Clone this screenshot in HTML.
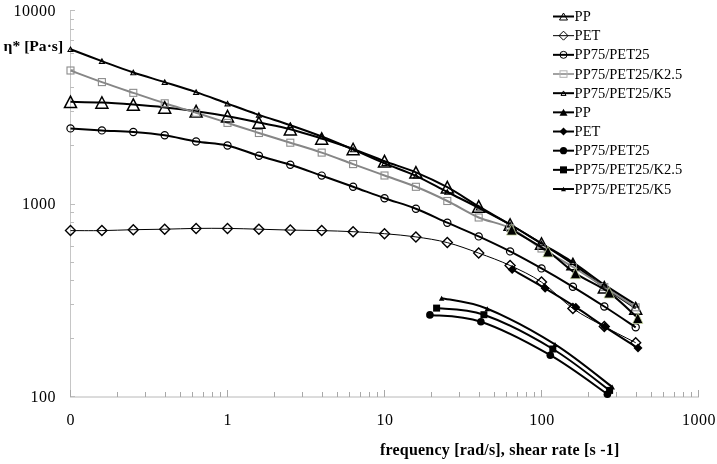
<!DOCTYPE html><html><head><meta charset="utf-8"><style>html,body{margin:0;padding:0;background:#fff;}svg{display:block;will-change:transform;}text{font-family:"Liberation Serif",serif;fill:#000;}</style></head><body>
<svg width="717" height="464" viewBox="0 0 717 464">
<rect width="717" height="464" fill="#fff"/>
<g stroke="#c6c6c6" stroke-width="1" fill="none" shape-rendering="crispEdges">
<line x1="70.5" y1="10" x2="70.5" y2="397"/>
</g>
<g stroke="#b8b8b8" stroke-width="1" fill="none">
<line x1="70" y1="397" x2="699" y2="397"/>
</g>
<g stroke="#bdbdbd" stroke-width="1" fill="none" shape-rendering="crispEdges">
<line x1="70" y1="396.5" x2="75.0" y2="396.5"/>
<line x1="70" y1="338.5" x2="74.0" y2="338.5"/>
<line x1="70" y1="304.5" x2="74.0" y2="304.5"/>
<line x1="70" y1="280.5" x2="74.0" y2="280.5"/>
<line x1="70" y1="262.5" x2="74.0" y2="262.5"/>
<line x1="70" y1="246.5" x2="74.0" y2="246.5"/>
<line x1="70" y1="233.5" x2="74.0" y2="233.5"/>
<line x1="70" y1="222.5" x2="74.0" y2="222.5"/>
<line x1="70" y1="212.5" x2="74.0" y2="212.5"/>
<line x1="70" y1="204.5" x2="75.0" y2="204.5"/>
<line x1="70" y1="145.5" x2="74.0" y2="145.5"/>
<line x1="70" y1="111.5" x2="74.0" y2="111.5"/>
<line x1="70" y1="87.5" x2="74.0" y2="87.5"/>
<line x1="70" y1="69.5" x2="74.0" y2="69.5"/>
<line x1="70" y1="53.5" x2="74.0" y2="53.5"/>
<line x1="70" y1="40.5" x2="74.0" y2="40.5"/>
<line x1="70" y1="29.5" x2="74.0" y2="29.5"/>
<line x1="70" y1="19.5" x2="74.0" y2="19.5"/>
<line x1="70" y1="10.5" x2="75" y2="10.5"/>
</g>
<g stroke="#a8a8a8" stroke-width="1" fill="none" shape-rendering="crispEdges">
<line x1="70.5" y1="397" x2="70.5" y2="390.0"/>
<line x1="117.5" y1="397" x2="117.5" y2="392.0"/>
<line x1="145.5" y1="397" x2="145.5" y2="392.0"/>
<line x1="165.5" y1="397" x2="165.5" y2="392.0"/>
<line x1="180.5" y1="397" x2="180.5" y2="392.0"/>
<line x1="192.5" y1="397" x2="192.5" y2="392.0"/>
<line x1="203.5" y1="397" x2="203.5" y2="392.0"/>
<line x1="212.5" y1="397" x2="212.5" y2="392.0"/>
<line x1="220.5" y1="397" x2="220.5" y2="392.0"/>
<line x1="227.5" y1="397" x2="227.5" y2="390.0"/>
<line x1="274.5" y1="397" x2="274.5" y2="392.0"/>
<line x1="302.5" y1="397" x2="302.5" y2="392.0"/>
<line x1="322.5" y1="397" x2="322.5" y2="392.0"/>
<line x1="337.5" y1="397" x2="337.5" y2="392.0"/>
<line x1="349.5" y1="397" x2="349.5" y2="392.0"/>
<line x1="360.5" y1="397" x2="360.5" y2="392.0"/>
<line x1="369.5" y1="397" x2="369.5" y2="392.0"/>
<line x1="377.5" y1="397" x2="377.5" y2="392.0"/>
<line x1="384.5" y1="397" x2="384.5" y2="390.0"/>
<line x1="431.5" y1="397" x2="431.5" y2="392.0"/>
<line x1="459.5" y1="397" x2="459.5" y2="392.0"/>
<line x1="479.5" y1="397" x2="479.5" y2="392.0"/>
<line x1="494.5" y1="397" x2="494.5" y2="392.0"/>
<line x1="506.5" y1="397" x2="506.5" y2="392.0"/>
<line x1="517.5" y1="397" x2="517.5" y2="392.0"/>
<line x1="526.5" y1="397" x2="526.5" y2="392.0"/>
<line x1="534.5" y1="397" x2="534.5" y2="392.0"/>
<line x1="541.5" y1="397" x2="541.5" y2="390.0"/>
<line x1="588.5" y1="397" x2="588.5" y2="392.0"/>
<line x1="616.5" y1="397" x2="616.5" y2="392.0"/>
<line x1="636.5" y1="397" x2="636.5" y2="392.0"/>
<line x1="651.5" y1="397" x2="651.5" y2="392.0"/>
<line x1="663.5" y1="397" x2="663.5" y2="392.0"/>
<line x1="674.5" y1="397" x2="674.5" y2="392.0"/>
<line x1="683.5" y1="397" x2="683.5" y2="392.0"/>
<line x1="691.5" y1="397" x2="691.5" y2="392.0"/>
<line x1="698.5" y1="397" x2="698.5" y2="390"/>
</g>
<g font-size="16" letter-spacing="0.5">
<text x="56" y="15.6" text-anchor="end">10000</text>
<text x="56" y="208.8" text-anchor="end">1000</text>
<text x="56" y="402.1" text-anchor="end">100</text>
<text x="70.8" y="424.7" text-anchor="middle">0</text>
<text x="227.8" y="424.7" text-anchor="middle">1</text>
<text x="384.9" y="424.7" text-anchor="middle">10</text>
<text x="541.9" y="424.7" text-anchor="middle">100</text>
<text x="698.9" y="424.7" text-anchor="middle">1000</text>
</g>
<text x="3.6" y="51" font-size="15.6" font-weight="bold">η* [Pa·s]</text>
<text x="380" y="455.2" font-size="16" font-weight="bold" letter-spacing="0.2">frequency [rad/s], shear rate [s -1]</text>
<path d="M70.50,230.60 C75.73,230.60 91.43,230.75 101.90,230.60 C112.37,230.45 122.83,229.93 133.30,229.70 C143.77,229.47 154.23,229.42 164.70,229.20 C175.17,228.98 185.63,228.53 196.10,228.40 C206.57,228.27 217.03,228.27 227.50,228.40 C237.97,228.53 248.43,228.92 258.90,229.20 C269.37,229.48 279.83,229.87 290.30,230.10 C300.77,230.33 311.23,230.33 321.70,230.60 C332.17,230.87 342.63,231.18 353.10,231.70 C363.57,232.22 374.03,232.83 384.50,233.70 C394.97,234.57 405.43,235.42 415.90,236.90 C426.37,238.38 436.83,239.90 447.30,242.60 C457.77,245.30 468.23,249.28 478.70,253.10 C489.17,256.92 499.63,260.67 510.10,265.50 C520.57,270.33 531.03,274.93 541.50,282.10 C551.97,289.27 562.43,301.10 572.90,308.50 C583.37,315.90 593.83,320.80 604.30,326.50 C614.77,332.20 630.47,340.00 635.70,342.70" fill="none" stroke="#000" stroke-width="1" stroke-linejoin="round"/>
<path d="M70.50,128.40 C75.73,128.73 91.43,129.80 101.90,130.40 C112.37,131.00 122.83,131.18 133.30,132.00 C143.77,132.82 154.23,133.72 164.70,135.30 C175.17,136.88 185.63,139.80 196.10,141.50 C206.57,143.20 217.03,143.12 227.50,145.50 C237.97,147.88 248.43,152.60 258.90,155.80 C269.37,159.00 279.83,161.40 290.30,164.70 C300.77,168.00 311.23,171.93 321.70,175.60 C332.17,179.27 342.63,182.93 353.10,186.70 C363.57,190.47 374.03,194.53 384.50,198.20 C394.97,201.87 405.43,204.62 415.90,208.70 C426.37,212.78 436.83,218.08 447.30,222.70 C457.77,227.32 468.23,231.62 478.70,236.40 C489.17,241.18 499.63,246.07 510.10,251.40 C520.57,256.73 531.03,262.50 541.50,268.40 C551.97,274.30 562.43,280.45 572.90,286.80 C583.37,293.15 593.83,299.75 604.30,306.50 C614.77,313.25 630.47,323.83 635.70,327.30" fill="none" stroke="#000" stroke-width="2" stroke-linejoin="round"/>
<path d="M70.50,101.80 C75.73,101.92 91.43,102.03 101.90,102.50 C112.37,102.97 122.83,103.78 133.30,104.60 C143.77,105.42 154.23,106.30 164.70,107.40 C175.17,108.50 185.63,109.73 196.10,111.20 C206.57,112.67 217.03,114.30 227.50,116.20 C237.97,118.10 248.43,120.43 258.90,122.60 C269.37,124.77 279.83,126.55 290.30,129.20 C300.77,131.85 311.23,135.20 321.70,138.50 C332.17,141.80 342.63,145.22 353.10,149.00 C363.57,152.78 374.03,157.32 384.50,161.20 C394.97,165.08 405.43,167.97 415.90,172.30 C426.37,176.63 436.83,181.52 447.30,187.20 C457.77,192.88 468.23,200.18 478.70,206.40 C489.17,212.62 499.63,218.32 510.10,224.50 C520.57,230.68 531.03,236.92 541.50,243.50 C551.97,250.08 562.43,256.70 572.90,264.00 C583.37,271.30 593.83,279.90 604.30,287.30 C614.77,294.70 630.47,304.88 635.70,308.40" fill="none" stroke="#000" stroke-width="2" stroke-linejoin="round"/>
<path d="M70.50,70.50 C75.73,72.43 91.43,78.38 101.90,82.10 C112.37,85.82 122.83,89.32 133.30,92.85 C143.77,96.38 154.23,99.97 164.70,103.30 C175.17,106.62 185.63,109.53 196.10,112.80 C206.57,116.07 217.03,119.53 227.50,122.90 C237.97,126.27 248.43,129.70 258.90,133.00 C269.37,136.30 279.83,139.43 290.30,142.70 C300.77,145.97 311.23,149.03 321.70,152.60 C332.17,156.17 342.63,160.28 353.10,164.10 C363.57,167.92 374.03,171.72 384.50,175.50 C394.97,179.28 405.43,182.55 415.90,186.80 C426.37,191.05 436.83,195.88 447.30,201.00 C457.77,206.12 468.23,213.00 478.70,217.50 C489.17,222.00 499.63,222.83 510.10,228.00 C520.57,233.17 531.03,242.00 541.50,248.50 C551.97,255.00 562.43,260.58 572.90,267.00 C583.37,273.42 593.83,280.28 604.30,287.00 C614.77,293.72 630.47,303.92 635.70,307.30" fill="none" stroke="#868686" stroke-width="2" stroke-linejoin="round"/>
<path d="M70.50,49.30 C75.73,51.27 91.43,57.23 101.90,61.10 C112.37,64.97 122.83,69.00 133.30,72.50 C143.77,76.00 154.23,78.83 164.70,82.10 C175.17,85.37 185.63,88.52 196.10,92.10 C206.57,95.68 217.03,99.80 227.50,103.60 C237.97,107.40 248.43,111.30 258.90,114.90 C269.37,118.50 279.83,121.60 290.30,125.20 C300.77,128.80 311.23,132.45 321.70,136.50 C332.17,140.55 342.63,145.03 353.10,149.50 C363.57,153.97 374.03,158.92 384.50,163.30 C394.97,167.68 405.43,171.02 415.90,175.80 C426.37,180.58 436.83,186.67 447.30,192.00 C457.77,197.33 468.23,202.38 478.70,207.80 C489.17,213.22 499.63,218.55 510.10,224.50 C520.57,230.45 531.03,237.20 541.50,243.50 C551.97,249.80 562.43,255.43 572.90,262.30 C583.37,269.17 593.83,277.63 604.30,284.70 C614.77,291.77 630.47,301.37 635.70,304.70" fill="none" stroke="#000" stroke-width="2" stroke-linejoin="round"/>
<path d="M70.50,225.60 L75.50,230.60 L70.50,235.60 L65.50,230.60 Z" fill="none" stroke="#000" stroke-width="1.4"/>
<path d="M101.90,225.60 L106.90,230.60 L101.90,235.60 L96.90,230.60 Z" fill="none" stroke="#000" stroke-width="1.4"/>
<path d="M133.30,224.70 L138.30,229.70 L133.30,234.70 L128.30,229.70 Z" fill="none" stroke="#000" stroke-width="1.4"/>
<path d="M164.70,224.20 L169.70,229.20 L164.70,234.20 L159.70,229.20 Z" fill="none" stroke="#000" stroke-width="1.4"/>
<path d="M196.10,223.40 L201.10,228.40 L196.10,233.40 L191.10,228.40 Z" fill="none" stroke="#000" stroke-width="1.4"/>
<path d="M227.50,223.40 L232.50,228.40 L227.50,233.40 L222.50,228.40 Z" fill="none" stroke="#000" stroke-width="1.4"/>
<path d="M258.90,224.20 L263.90,229.20 L258.90,234.20 L253.90,229.20 Z" fill="none" stroke="#000" stroke-width="1.4"/>
<path d="M290.30,225.10 L295.30,230.10 L290.30,235.10 L285.30,230.10 Z" fill="none" stroke="#000" stroke-width="1.4"/>
<path d="M321.70,225.60 L326.70,230.60 L321.70,235.60 L316.70,230.60 Z" fill="none" stroke="#000" stroke-width="1.4"/>
<path d="M353.10,226.70 L358.10,231.70 L353.10,236.70 L348.10,231.70 Z" fill="none" stroke="#000" stroke-width="1.4"/>
<path d="M384.50,228.70 L389.50,233.70 L384.50,238.70 L379.50,233.70 Z" fill="none" stroke="#000" stroke-width="1.4"/>
<path d="M415.90,231.90 L420.90,236.90 L415.90,241.90 L410.90,236.90 Z" fill="none" stroke="#000" stroke-width="1.4"/>
<path d="M447.30,237.60 L452.30,242.60 L447.30,247.60 L442.30,242.60 Z" fill="none" stroke="#000" stroke-width="1.4"/>
<path d="M478.70,248.10 L483.70,253.10 L478.70,258.10 L473.70,253.10 Z" fill="none" stroke="#000" stroke-width="1.4"/>
<path d="M510.10,260.50 L515.10,265.50 L510.10,270.50 L505.10,265.50 Z" fill="none" stroke="#000" stroke-width="1.4"/>
<path d="M541.50,277.10 L546.50,282.10 L541.50,287.10 L536.50,282.10 Z" fill="none" stroke="#000" stroke-width="1.4"/>
<path d="M572.90,303.50 L577.90,308.50 L572.90,313.50 L567.90,308.50 Z" fill="none" stroke="#000" stroke-width="1.4"/>
<path d="M604.30,321.50 L609.30,326.50 L604.30,331.50 L599.30,326.50 Z" fill="none" stroke="#000" stroke-width="1.4"/>
<path d="M635.70,337.70 L640.70,342.70 L635.70,347.70 L630.70,342.70 Z" fill="none" stroke="#000" stroke-width="1.4"/>
<circle cx="70.50" cy="128.40" r="3.6" fill="none" stroke="#000" stroke-width="1.2"/>
<circle cx="101.90" cy="130.40" r="3.6" fill="none" stroke="#000" stroke-width="1.2"/>
<circle cx="133.30" cy="132.00" r="3.6" fill="none" stroke="#000" stroke-width="1.2"/>
<circle cx="164.70" cy="135.30" r="3.6" fill="none" stroke="#000" stroke-width="1.2"/>
<circle cx="196.10" cy="141.50" r="3.6" fill="none" stroke="#000" stroke-width="1.2"/>
<circle cx="227.50" cy="145.50" r="3.6" fill="none" stroke="#000" stroke-width="1.2"/>
<circle cx="258.90" cy="155.80" r="3.6" fill="none" stroke="#000" stroke-width="1.2"/>
<circle cx="290.30" cy="164.70" r="3.6" fill="none" stroke="#000" stroke-width="1.2"/>
<circle cx="321.70" cy="175.60" r="3.6" fill="none" stroke="#000" stroke-width="1.2"/>
<circle cx="353.10" cy="186.70" r="3.6" fill="none" stroke="#000" stroke-width="1.2"/>
<circle cx="384.50" cy="198.20" r="3.6" fill="none" stroke="#000" stroke-width="1.2"/>
<circle cx="415.90" cy="208.70" r="3.6" fill="none" stroke="#000" stroke-width="1.2"/>
<circle cx="447.30" cy="222.70" r="3.6" fill="none" stroke="#000" stroke-width="1.2"/>
<circle cx="478.70" cy="236.40" r="3.6" fill="none" stroke="#000" stroke-width="1.2"/>
<circle cx="510.10" cy="251.40" r="3.6" fill="none" stroke="#000" stroke-width="1.2"/>
<circle cx="541.50" cy="268.40" r="3.6" fill="none" stroke="#000" stroke-width="1.2"/>
<circle cx="572.90" cy="286.80" r="3.6" fill="none" stroke="#000" stroke-width="1.2"/>
<circle cx="604.30" cy="306.50" r="3.6" fill="none" stroke="#000" stroke-width="1.2"/>
<circle cx="635.70" cy="327.30" r="3.6" fill="none" stroke="#000" stroke-width="1.2"/>
<path d="M70.50,96.05 L76.50,107.55 L64.50,107.55 Z" fill="none" stroke="#000" stroke-width="1.5"/>
<path d="M101.90,96.75 L107.90,108.25 L95.90,108.25 Z" fill="none" stroke="#000" stroke-width="1.5"/>
<path d="M133.30,98.85 L139.30,110.35 L127.30,110.35 Z" fill="none" stroke="#000" stroke-width="1.5"/>
<path d="M164.70,101.65 L170.70,113.15 L158.70,113.15 Z" fill="none" stroke="#000" stroke-width="1.5"/>
<path d="M196.10,105.45 L202.10,116.95 L190.10,116.95 Z" fill="none" stroke="#000" stroke-width="1.5"/>
<path d="M227.50,110.45 L233.50,121.95 L221.50,121.95 Z" fill="none" stroke="#000" stroke-width="1.5"/>
<path d="M258.90,116.85 L264.90,128.35 L252.90,128.35 Z" fill="none" stroke="#000" stroke-width="1.5"/>
<path d="M290.30,123.45 L296.30,134.95 L284.30,134.95 Z" fill="none" stroke="#000" stroke-width="1.5"/>
<path d="M321.70,132.75 L327.70,144.25 L315.70,144.25 Z" fill="none" stroke="#000" stroke-width="1.5"/>
<path d="M353.10,143.25 L359.10,154.75 L347.10,154.75 Z" fill="none" stroke="#000" stroke-width="1.5"/>
<path d="M384.50,155.45 L390.50,166.95 L378.50,166.95 Z" fill="none" stroke="#000" stroke-width="1.5"/>
<path d="M415.90,166.55 L421.90,178.05 L409.90,178.05 Z" fill="none" stroke="#000" stroke-width="1.5"/>
<path d="M447.30,181.45 L453.30,192.95 L441.30,192.95 Z" fill="none" stroke="#000" stroke-width="1.5"/>
<path d="M478.70,200.65 L484.70,212.15 L472.70,212.15 Z" fill="none" stroke="#000" stroke-width="1.5"/>
<path d="M510.10,218.75 L516.10,230.25 L504.10,230.25 Z" fill="none" stroke="#000" stroke-width="1.5"/>
<path d="M541.50,237.75 L547.50,249.25 L535.50,249.25 Z" fill="none" stroke="#000" stroke-width="1.5"/>
<path d="M572.90,258.25 L578.90,269.75 L566.90,269.75 Z" fill="none" stroke="#000" stroke-width="1.5"/>
<path d="M604.30,281.55 L610.30,293.05 L598.30,293.05 Z" fill="none" stroke="#000" stroke-width="1.5"/>
<path d="M635.70,302.65 L641.70,314.15 L629.70,314.15 Z" fill="none" stroke="#000" stroke-width="1.5"/>
<rect x="67.00" y="67.00" width="7" height="7" fill="none" stroke="#8c8c8c" stroke-width="1.1"/>
<rect x="98.40" y="78.60" width="7" height="7" fill="none" stroke="#8c8c8c" stroke-width="1.1"/>
<rect x="129.80" y="89.35" width="7" height="7" fill="none" stroke="#8c8c8c" stroke-width="1.1"/>
<rect x="161.20" y="99.80" width="7" height="7" fill="none" stroke="#8c8c8c" stroke-width="1.1"/>
<rect x="192.60" y="109.30" width="7" height="7" fill="none" stroke="#8c8c8c" stroke-width="1.1"/>
<rect x="224.00" y="119.40" width="7" height="7" fill="none" stroke="#8c8c8c" stroke-width="1.1"/>
<rect x="255.40" y="129.50" width="7" height="7" fill="none" stroke="#8c8c8c" stroke-width="1.1"/>
<rect x="286.80" y="139.20" width="7" height="7" fill="none" stroke="#8c8c8c" stroke-width="1.1"/>
<rect x="318.20" y="149.10" width="7" height="7" fill="none" stroke="#8c8c8c" stroke-width="1.1"/>
<rect x="349.60" y="160.60" width="7" height="7" fill="none" stroke="#8c8c8c" stroke-width="1.1"/>
<rect x="381.00" y="172.00" width="7" height="7" fill="none" stroke="#8c8c8c" stroke-width="1.1"/>
<rect x="412.40" y="183.30" width="7" height="7" fill="none" stroke="#8c8c8c" stroke-width="1.1"/>
<rect x="443.80" y="197.50" width="7" height="7" fill="none" stroke="#8c8c8c" stroke-width="1.1"/>
<rect x="475.20" y="214.00" width="7" height="7" fill="none" stroke="#8c8c8c" stroke-width="1.1"/>
<rect x="506.60" y="224.50" width="7" height="7" fill="none" stroke="#8c8c8c" stroke-width="1.1"/>
<rect x="538.00" y="245.00" width="7" height="7" fill="none" stroke="#8c8c8c" stroke-width="1.1"/>
<rect x="569.40" y="263.50" width="7" height="7" fill="none" stroke="#8c8c8c" stroke-width="1.1"/>
<rect x="600.80" y="283.50" width="7" height="7" fill="none" stroke="#8c8c8c" stroke-width="1.1"/>
<rect x="632.20" y="303.80" width="7" height="7" fill="none" stroke="#8c8c8c" stroke-width="1.1"/>
<path d="M70.50,47.05 L73.00,51.55 L68.00,51.55 Z" fill="none" stroke="#000" stroke-width="1.1"/>
<path d="M101.90,58.85 L104.40,63.35 L99.40,63.35 Z" fill="none" stroke="#000" stroke-width="1.1"/>
<path d="M133.30,70.25 L135.80,74.75 L130.80,74.75 Z" fill="none" stroke="#000" stroke-width="1.1"/>
<path d="M164.70,79.85 L167.20,84.35 L162.20,84.35 Z" fill="none" stroke="#000" stroke-width="1.1"/>
<path d="M196.10,89.85 L198.60,94.35 L193.60,94.35 Z" fill="none" stroke="#000" stroke-width="1.1"/>
<path d="M227.50,101.35 L230.00,105.85 L225.00,105.85 Z" fill="none" stroke="#000" stroke-width="1.1"/>
<path d="M258.90,112.65 L261.40,117.15 L256.40,117.15 Z" fill="none" stroke="#000" stroke-width="1.1"/>
<path d="M290.30,122.95 L292.80,127.45 L287.80,127.45 Z" fill="none" stroke="#000" stroke-width="1.1"/>
<path d="M321.70,134.25 L324.20,138.75 L319.20,138.75 Z" fill="none" stroke="#000" stroke-width="1.1"/>
<path d="M353.10,147.25 L355.60,151.75 L350.60,151.75 Z" fill="none" stroke="#000" stroke-width="1.1"/>
<path d="M384.50,161.05 L387.00,165.55 L382.00,165.55 Z" fill="none" stroke="#000" stroke-width="1.1"/>
<path d="M415.90,173.55 L418.40,178.05 L413.40,178.05 Z" fill="none" stroke="#000" stroke-width="1.1"/>
<path d="M447.30,189.75 L449.80,194.25 L444.80,194.25 Z" fill="none" stroke="#000" stroke-width="1.1"/>
<path d="M478.70,205.55 L481.20,210.05 L476.20,210.05 Z" fill="none" stroke="#000" stroke-width="1.1"/>
<path d="M510.10,222.25 L512.60,226.75 L507.60,226.75 Z" fill="none" stroke="#000" stroke-width="1.1"/>
<path d="M541.50,241.25 L544.00,245.75 L539.00,245.75 Z" fill="none" stroke="#000" stroke-width="1.1"/>
<path d="M572.90,260.05 L575.40,264.55 L570.40,264.55 Z" fill="none" stroke="#000" stroke-width="1.1"/>
<path d="M604.30,282.45 L606.80,286.95 L601.80,286.95 Z" fill="none" stroke="#000" stroke-width="1.1"/>
<path d="M635.70,302.45 L638.20,306.95 L633.20,306.95 Z" fill="none" stroke="#000" stroke-width="1.1"/>
<path d="M512.20,269.50 C517.68,272.63 534.50,282.02 545.10,288.30 C555.70,294.58 565.85,300.78 575.80,307.20 C585.75,313.62 594.43,319.98 604.80,326.80 C615.17,333.62 632.47,344.55 638.00,348.10" fill="none" stroke="#000" stroke-width="2" stroke-linejoin="round"/>
<path d="M511.70,229.70 C517.75,233.33 537.37,244.23 548.00,251.50 C558.63,258.77 565.30,266.45 575.50,273.30 C585.70,280.15 598.82,285.13 609.20,292.60 C619.58,300.07 633.03,313.85 637.80,318.10" fill="none" stroke="#000" stroke-width="2" stroke-linejoin="round"/>
<path d="M429.90,314.90 C438.40,316.03 460.83,314.98 480.90,321.70 C500.97,328.42 529.22,343.12 550.30,355.20 C571.38,367.28 597.88,387.70 607.40,394.20" fill="none" stroke="#000" stroke-width="2" stroke-linejoin="round"/>
<path d="M436.60,308.10 C444.48,309.20 464.53,307.88 483.90,314.70 C503.27,321.52 531.85,336.38 552.80,349.00 C573.75,361.62 600.13,383.50 609.60,390.40" fill="none" stroke="#000" stroke-width="2" stroke-linejoin="round"/>
<path d="M441.60,298.20 C449.22,299.97 468.40,301.10 487.30,308.80 C506.20,316.50 534.18,331.37 555.00,344.40 C575.82,357.43 602.67,379.90 612.20,387.00" fill="none" stroke="#000" stroke-width="2" stroke-linejoin="round"/>
<path d="M512.20,265.00 L516.70,269.50 L512.20,274.00 L507.70,269.50 Z" fill="#000"/>
<path d="M545.10,283.80 L549.60,288.30 L545.10,292.80 L540.60,288.30 Z" fill="#000"/>
<path d="M575.80,302.70 L580.30,307.20 L575.80,311.70 L571.30,307.20 Z" fill="#000"/>
<path d="M604.80,322.30 L609.30,326.80 L604.80,331.30 L600.30,326.80 Z" fill="#000"/>
<path d="M638.00,343.60 L642.50,348.10 L638.00,352.60 L633.50,348.10 Z" fill="#000"/>
<path d="M511.70,224.30 L516.90,235.10 L506.50,235.10 Z" fill="#000" stroke="#c9d8a6" stroke-width="0.8"/>
<path d="M548.00,246.10 L553.20,256.90 L542.80,256.90 Z" fill="#000" stroke="#c9d8a6" stroke-width="0.8"/>
<path d="M575.50,267.90 L580.70,278.70 L570.30,278.70 Z" fill="#000" stroke="#c9d8a6" stroke-width="0.8"/>
<path d="M609.20,287.20 L614.40,298.00 L604.00,298.00 Z" fill="#000" stroke="#c9d8a6" stroke-width="0.8"/>
<path d="M637.80,312.70 L643.00,323.50 L632.60,323.50 Z" fill="#000" stroke="#c9d8a6" stroke-width="0.8"/>
<circle cx="429.90" cy="314.90" r="3.8" fill="#000"/>
<circle cx="480.90" cy="321.70" r="3.8" fill="#000"/>
<circle cx="550.30" cy="355.20" r="3.8" fill="#000"/>
<circle cx="607.40" cy="394.20" r="3.8" fill="#000"/>
<rect x="433.10" y="304.60" width="7" height="7" fill="#000"/>
<rect x="480.40" y="311.20" width="7" height="7" fill="#000"/>
<rect x="549.30" y="345.50" width="7" height="7" fill="#000"/>
<rect x="606.10" y="386.90" width="7" height="7" fill="#000"/>
<path d="M441.60,295.70 L444.35,300.70 L438.85,300.70 Z" fill="#000"/>
<path d="M487.30,306.30 L490.05,311.30 L484.55,311.30 Z" fill="#000"/>
<path d="M555.00,341.90 L557.75,346.90 L552.25,346.90 Z" fill="#000"/>
<path d="M612.20,384.50 L614.95,389.50 L609.45,389.50 Z" fill="#000"/>
<line x1="553" y1="16.50" x2="574" y2="16.50" stroke="#000" stroke-width="2"/>
<path d="M563.50,13.00 L567.50,20.00 L559.50,20.00 Z" fill="none" stroke="#000" stroke-width="1"/>
<text x="574.6" y="21.10" font-size="14.5">PP</text>
<line x1="553" y1="35.67" x2="574" y2="35.67" stroke="#000" stroke-width="1"/>
<path d="M563.50,31.17 L568.00,35.67 L563.50,40.17 L559.00,35.67 Z" fill="none" stroke="#000" stroke-width="1"/>
<text x="574.6" y="40.27" font-size="14.5">PET</text>
<line x1="553" y1="54.84" x2="574" y2="54.84" stroke="#000" stroke-width="2"/>
<circle cx="563.50" cy="54.84" r="3.5" fill="none" stroke="#000" stroke-width="1"/>
<text x="574.6" y="59.44" font-size="14.5">PP75/PET25</text>
<line x1="553" y1="74.01" x2="574" y2="74.01" stroke="#a2a2a2" stroke-width="2"/>
<rect x="560.00" y="70.81" width="7" height="6.5" fill="none" stroke="#b0b0b0" stroke-width="1"/>
<text x="574.6" y="78.61" font-size="14.5">PP75/PET25/K2.5</text>
<line x1="553" y1="93.18" x2="574" y2="93.18" stroke="#000" stroke-width="2"/>
<path d="M563.50,90.93 L566.00,95.43 L561.00,95.43 Z" fill="none" stroke="#000" stroke-width="1"/>
<text x="574.6" y="97.78" font-size="14.5">PP75/PET25/K5</text>
<line x1="553" y1="112.35" x2="574" y2="112.35" stroke="#000" stroke-width="2"/>
<path d="M563.50,108.85 L567.50,115.85 L559.50,115.85 Z" fill="#000"/>
<text x="574.6" y="116.95" font-size="14.5">PP</text>
<line x1="553" y1="131.52" x2="574" y2="131.52" stroke="#000" stroke-width="2"/>
<path d="M563.50,127.52 L567.50,131.52 L563.50,135.52 L559.50,131.52 Z" fill="#000"/>
<text x="574.6" y="136.12" font-size="14.5">PET</text>
<line x1="553" y1="150.69" x2="574" y2="150.69" stroke="#000" stroke-width="2"/>
<circle cx="563.50" cy="150.69" r="3.6" fill="#000"/>
<text x="574.6" y="155.29" font-size="14.5">PP75/PET25</text>
<line x1="553" y1="169.86" x2="574" y2="169.86" stroke="#000" stroke-width="2"/>
<rect x="560.00" y="166.36" width="7" height="7" fill="#000"/>
<text x="574.6" y="174.46" font-size="14.5">PP75/PET25/K2.5</text>
<line x1="553" y1="189.03" x2="574" y2="189.03" stroke="#000" stroke-width="2"/>
<path d="M563.50,186.78 L566.00,191.28 L561.00,191.28 Z" fill="#000"/>
<text x="574.6" y="193.63" font-size="14.5">PP75/PET25/K5</text>
</svg></body></html>
